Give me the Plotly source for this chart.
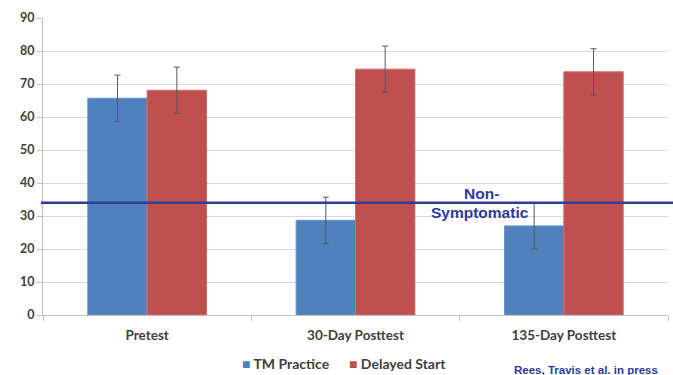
import plotly.graph_objects as go

categories = ["Pretest", "30-Day Posttest", "135-Day Posttest"]
tm_practice = [65.7, 28.7, 27.0]
tm_err = [7.0, 7.0, 7.0]
delayed_start = [68.1, 74.5, 73.7]
delayed_err = [7.0, 7.0, 7.0]
threshold = 34
y_ticks = [0, 10, 20, 30, 40, 50, 60, 70, 80, 90]
series_names = ["TM Practice", "Delayed Start"]
series_colors = ["#4f81bd", "#c0504d"]

FONT = "Lato"
W, H = 673, 375
L, R, T, B = 43, 5, 18, 60
PW, PH = W - L - R, H - T - B


def px(x):
    return (x - L) / PW


def py(y):
    return (H - B - y) / PH


fig = go.Figure()
fig.add_trace(go.Bar(
    name=series_names[0], x=categories, y=tm_practice,
    marker=dict(color=series_colors[0], line=dict(color="#6a93c6", width=1)),
    error_y=dict(type="data", array=tm_err, color="#595959", thickness=1, width=3),
))
fig.add_trace(go.Bar(
    name=series_names[1], x=categories, y=delayed_start,
    marker=dict(color=series_colors[1], line=dict(color="#cc6d6a", width=1)),
    error_y=dict(type="data", array=delayed_err, color="#595959", thickness=1, width=3),
))

fig.add_shape(type="line", xref="paper", yref="y", x0=px(41), x1=px(673),
              y0=threshold, y1=threshold, line=dict(color="#2e3a9c", width=2.5))
fig.add_annotation(text="Non-", xref="paper", yref="y",
                   x=px(481), y=threshold, yshift=-1, xanchor="center", yanchor="bottom",
                   showarrow=False,
                   font=dict(family="Liberation Sans", size=15.5, color="#2e3a9c", weight="bold"))
fig.add_annotation(text="Symptomatic", xref="paper", yref="y",
                   x=px(480), y=threshold, yshift=1, xanchor="center", yanchor="top",
                   showarrow=False,
                   font=dict(family="Liberation Sans", size=15.5, color="#2e3a9c", weight="bold"))
fig.add_annotation(text="Rees, Travis et al. in press", xref="paper", yref="paper",
                   x=px(586), y=py(370), xanchor="center", yanchor="middle", showarrow=False,
                   font=dict(family="Liberation Sans", size=11.5, color="#2e3a9c", weight="bold"))

# legend (drawn as text entries with colored squares)
legend_x = [240, 347]
for name, color, lx in zip(series_names, series_colors, legend_x):
    fig.add_annotation(
        text=f"<span style='color:{color}'>■</span> {name}",
        xref="paper", yref="paper", x=px(lx), y=py(363), xanchor="left", yanchor="middle",
        showarrow=False,
        font=dict(family=FONT, size=14, color="#404040", weight="bold"))

fig.update_layout(
    width=W, height=H,
    margin=dict(l=L, r=R, t=T, b=B),
    paper_bgcolor="white", plot_bgcolor="white",
    barmode="group", bargap=0.43, bargroupgap=0,
    font=dict(family=FONT, color="#404040"),
    showlegend=False,
)
fig.update_xaxes(automargin=False, showgrid=False, showline=True, linecolor="#bfbfbf", linewidth=1,
                 ticks="outside", tickson="boundaries", ticklen=5, tickcolor="#bfbfbf",
                 ticklabelstandoff=8,
                 tickfont=dict(family=FONT, size=13.5, color="#404040", weight="bold"))
fig.update_yaxes(automargin=False, range=[0, 90], tickvals=y_ticks, showgrid=True, gridcolor="#d9d9d9",
                 showline=True, linecolor="#bfbfbf", linewidth=1,
                 ticks="outside", ticklen=5, tickcolor="#bfbfbf",
                 zeroline=False,
                 tickfont=dict(family=FONT, size=12.5, color="#404040", weight="bold"))

fig.write_html("out.html", config={"displayModeBar": False},
               post_script="document.body.style.margin='0';")
